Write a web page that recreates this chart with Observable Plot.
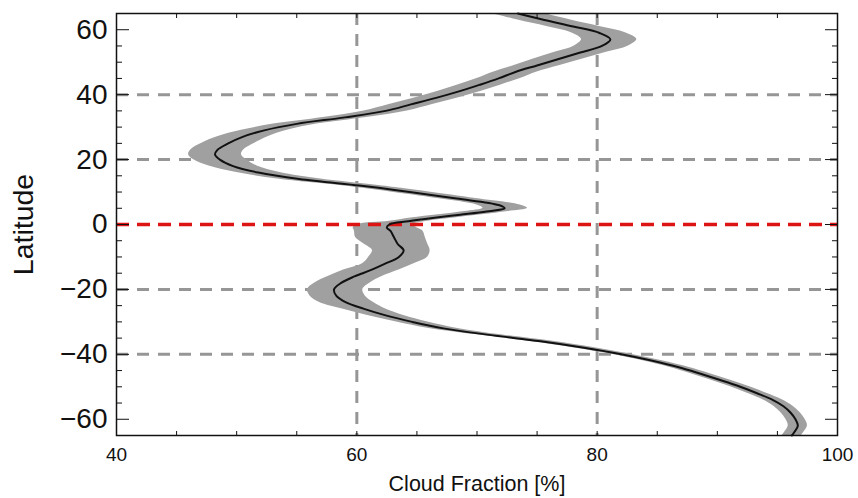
<!DOCTYPE html>
<html><head><meta charset="utf-8">
<script src="https://cdn.jsdelivr.net/npm/d3@7"></script>
<script src="https://cdn.jsdelivr.net/npm/@observablehq/plot@0.6"></script>
<style>body{margin:0;background:#fff;} #chart{width:858px;height:498px;}</style>
</head><body><div id="chart"></div>
<script>
const latitude = [-65,-64,-62,-60,-58,-56,-54,-52,-50,-48,-46,-44,-42,-40,-38,-36,-34,-32,-30,-28,-26,-24,-22,-20,-18,-16,-14,-12,-10,-8,-6,-4,-2,-1,0,1,2,3,4,5,6,8,10,11,12,14,16,18,20,21.5,23,25,27,29,31,33,35,37,39,41,43,45,47,49,51,53,55,57,59,61,63,65];
const meanCF = [96.2,96.4,96.7,96.5,96.1,95.5,94.6,93.3,91.9,90.3,88.6,86.8,84.6,82.0,78.9,75.3,71.0,67.2,64.6,62.4,60.6,59.1,58.3,58.1,58.7,59.8,61.2,62.4,63.5,63.9,63.4,63.1,62.8,62.5,62.7,64.3,66.3,68.6,70.8,72.3,71.8,68.3,64.4,62.4,60.2,55.2,51.8,49.7,48.6,48.2,48.4,49.3,50.5,52.3,55.0,59.0,62.4,64.5,66.6,68.5,70.2,71.8,73.2,75.0,76.8,78.6,80.4,81.1,80.2,78.0,75.6,73.4];
const lowCF = [95.4,95.6,95.9,95.7,95.3,94.7,93.8,92.5,91.1,89.5,87.8,86.0,83.8,81.2,78.0,74.3,70.0,66.0,63.3,60.9,58.8,56.9,56.1,55.9,56.5,57.6,58.9,60.5,61.0,61.3,60.6,59.9,59.8,59.7,60.1,62.7,64.5,66.8,69.0,70.5,70.0,66.7,62.8,60.8,58.6,53.4,50.0,47.7,46.4,46.0,46.2,47.1,48.4,50.4,53.2,57.2,60.6,62.7,64.8,66.7,68.4,70.0,71.4,73.1,74.7,76.4,78.1,78.7,77.9,75.8,73.4,71.2];
const highCF = [97.0,97.2,97.5,97.3,96.9,96.3,95.4,94.1,92.7,91.1,89.4,87.6,85.4,82.8,79.8,76.3,72.0,68.4,65.9,63.9,62.4,61.4,60.7,60.5,61.1,62.1,63.5,64.8,65.9,66.1,65.9,65.7,65.5,65.0,64.7,65.9,68.1,70.4,72.6,74.2,73.6,69.9,66.0,64.0,61.8,57.0,53.6,51.7,50.8,50.4,50.6,51.5,52.6,54.2,56.8,60.8,64.2,66.3,68.4,70.3,72.0,73.6,75.0,76.9,78.8,80.7,82.6,83.3,82.4,80.2,77.8,75.6];

const xTickLabels = [40, 60, 80, 100];
const xMinorTicks = [45, 50, 55, 65, 70, 75, 85, 90, 95];
const yTickLabels = [-60, -40, -20, 0, 20, 40, 60];
const yMinorTicks = [-55, -50, -45, -35, -30, -25, -15, -10, -5, 5, 10, 15, 25, 30, 35, 45, 50, 55];
const gridXValues = [60, 80];
const gridYValues = [-40, -20, 20, 40];
const equator = [0];

const rows = latitude.map((lat, i) => ({lat, mean: meanCF[i], lo: lowCF[i], hi: highCF[i]}));
const font = "'Liberation Sans', Arial, Helvetica, sans-serif";
const minus = d => d < 0 ? "\u2212" + Math.abs(d) : String(d);

const chart = Plot.plot({
  width: 858, height: 498,
  marginLeft: 116, marginRight: 21, marginTop: 13, marginBottom: 63,
  style: {fontFamily: font, background: "white", color: "#111"},
  x: {domain: [40, 100]},
  y: {domain: [-65, 65]},
  marks: [
    Plot.gridX(gridXValues, {stroke: "#969696", strokeOpacity: 1, strokeWidth: 3, strokeDasharray: "12,9"}),
    Plot.gridY(gridYValues, {stroke: "#969696", strokeOpacity: 1, strokeWidth: 3, strokeDasharray: "12,9"}),
    Plot.areaX(rows, {y: "lat", x1: "lo", x2: "hi", fill: "#a0a0a0", curve: "catmull-rom"}),
    Plot.ruleY(equator, {stroke: "#dd1414", strokeWidth: 3.5, strokeDasharray: "13,8"}),
    Plot.lineX(rows, {x: "mean", y: "lat", stroke: "#111", strokeWidth: 2, curve: "catmull-rom"}),
    Plot.axisX(xTickLabels.concat(xMinorTicks), {anchor: "bottom", tickSize: -4, fill: "none", label: null}),
    Plot.axisX(xTickLabels.concat(xMinorTicks), {anchor: "top", tickSize: -4, fill: "none", label: null}),
    Plot.axisY(yTickLabels, {anchor: "left", tickSize: -13, fill: "none", label: null}),
    Plot.axisY(yMinorTicks, {anchor: "left", tickSize: -6, fill: "none", label: null}),
    Plot.axisY(yTickLabels, {anchor: "right", tickSize: -13, fill: "none", label: null}),
    Plot.axisY(yMinorTicks, {anchor: "right", tickSize: -6, fill: "none", label: null}),
    Plot.axisX(xTickLabels, {anchor: "bottom", tickSize: 0, tickPadding: 12, fontSize: 19, fill: "#111", label: null}),
    Plot.axisX([], {anchor: "bottom", tickSize: 0, fontSize: 21.5, fill: "#111",
      label: "Cloud Fraction [%]", labelAnchor: "center", labelOffset: 55, labelArrow: "none"}),
    Plot.axisY(yTickLabels, {anchor: "left", tickSize: 0, tickPadding: 9, fontSize: 28, fill: "#111", tickFormat: minus, label: null}),
    Plot.axisY([], {anchor: "left", tickSize: 0, fontSize: 28.5, fill: "#111",
      label: "Latitude", labelAnchor: "center", labelOffset: 104, labelArrow: "none"}),
    Plot.frame({stroke: "#111", strokeWidth: 1.5})
  ]
});
document.getElementById("chart").appendChild(chart);
</script>
</body></html>
